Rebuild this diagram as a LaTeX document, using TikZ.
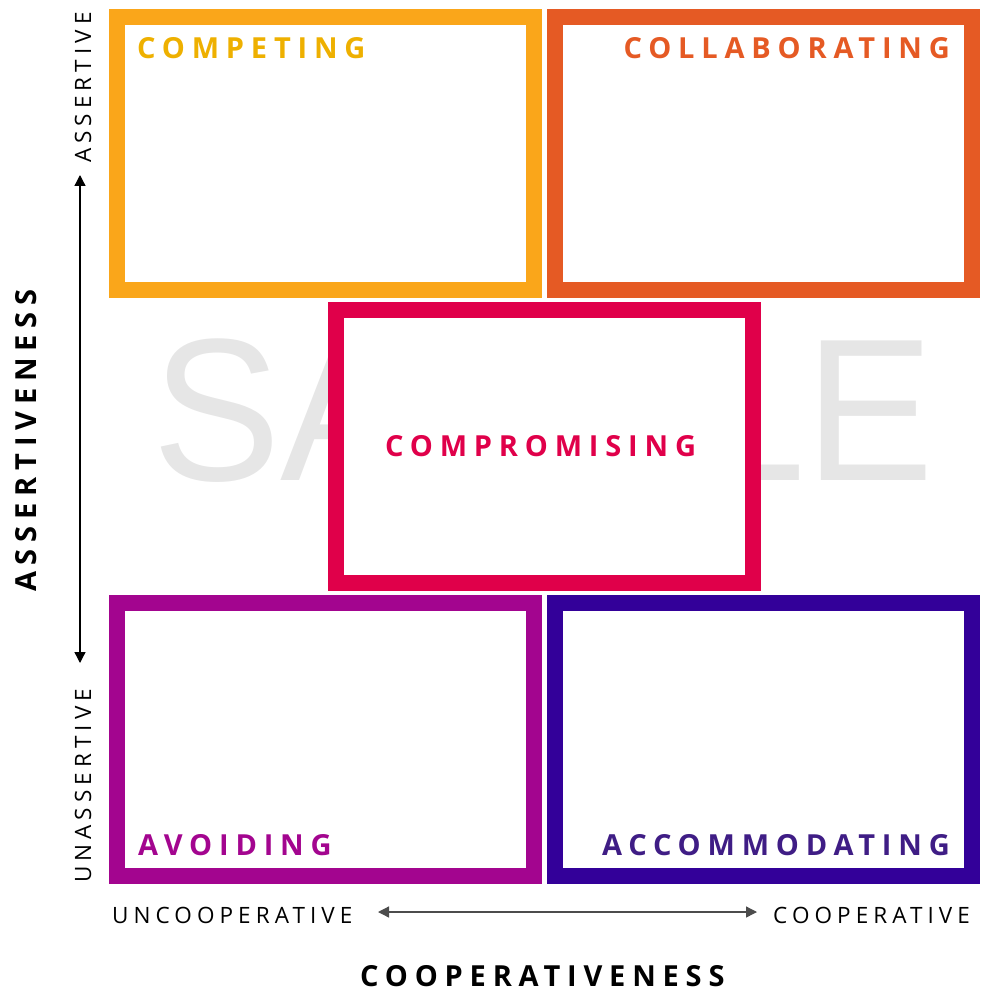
\documentclass[tikz,border=0pt]{standalone}
\usepackage{fontspec}
\setmainfont{Open Sans}
\newfontfamily\stampfont{Liberation Sans}
\usetikzlibrary{arrows.meta}

\definecolor{competing}{HTML}{FAA61A}
\definecolor{competingtext}{HTML}{EEB000}
\definecolor{collaborating}{HTML}{E55A24}
\definecolor{compromising}{HTML}{E0004A}
\definecolor{avoiding}{HTML}{A3058F}
\definecolor{accommodating}{HTML}{330099}
\definecolor{accommodatingtext}{HTML}{3F1D85}
\definecolor{stamp}{HTML}{E6E6E6}

\tikzset{
  quad/.style={draw=#1, line width=16pt, minimum width=417pt, minimum height=273pt, inner sep=0pt},
  quadlabel/.style={text=#1, inner sep=0pt,
    font=\fontsize{29}{29}\selectfont\bfseries\addfontfeature{LetterSpace=23.5}},
  pole/.style={inner sep=0pt, font=\fontsize{22.5}{22.5}\selectfont\addfontfeature{LetterSpace=22.5}},
  axisname/.style={inner sep=0pt, font=\fontsize{29}{29}\selectfont\bfseries\addfontfeature{LetterSpace=23.5}},
  twoway/.style={{Triangle[length=11pt,width=11pt]}-{Triangle[length=11pt,width=11pt]}, line width=1.3pt}
}

\begin{document}
\begin{tikzpicture}[x=1pt,y=-1pt]
\useasboundingbox (0,0) rectangle (980,992);
% watermark
\node[text=stamp, inner sep=0pt, anchor=base west, xscale=0.95, font=\fontsize{203}{203}\selectfont\stampfont] (stamp) at (152,480) {SAMPLE};
% the five styles
\node[quad=competing] (competing) at (325.5,153.5) {};
\node[quad=collaborating] (collaborating) at (763,153.5) {};
\node[quad=compromising, fill=white] (compromising) at (544.5,446.5) {};
\node[quad=avoiding] (avoiding) at (325.5,739.5) {};
\node[quad=accommodating] (accommodating) at (763,739.5) {};
\node[quadlabel=competingtext, anchor=base west] (competinglbl) at (137,59) {COMPETING};
\node[quadlabel=collaborating, anchor=base east] (collaboratinglbl) at (950,59) {COLLABORATING};
\node[quadlabel=compromising, anchor=base west] (compromisinglbl) at (385,456) {COMPROMISING};
\node[quadlabel=avoiding, anchor=base west] (avoidinglbl) at (138,855) {AVOIDING};
\node[quadlabel=accommodatingtext, anchor=base east] (accommodatinglbl) at (950,855) {ACCOMMODATING};
% axes
\node[pole, rotate=90, anchor=base west] (assertive) at (91,163) {ASSERTIVE};
\node[pole, rotate=90, anchor=base west] (unassertive) at (91,883) {UNASSERTIVE};
\node[axisname, rotate=90, anchor=base west] (assertiveness) at (36,592) {ASSERTIVENESS};
\node[pole, anchor=base west] (uncooperative) at (112,923) {UNCOOPERATIVE};
\node[pole, anchor=base west] (cooperative) at (773,923) {COOPERATIVE};
\node[axisname, anchor=base west] (cooperativeness) at (360,986) {COOPERATIVENESS};
\coordinate (vhigh) at (80,175);
\coordinate (vlow) at (80,663);
\coordinate (hlow) at (378,912);
\coordinate (hhigh) at (757,912);
\draw[twoway] (vhigh) -- (vlow);
\draw[twoway, draw=black!70, fill=black] (hlow) -- (hhigh);
\end{tikzpicture}
\end{document}
